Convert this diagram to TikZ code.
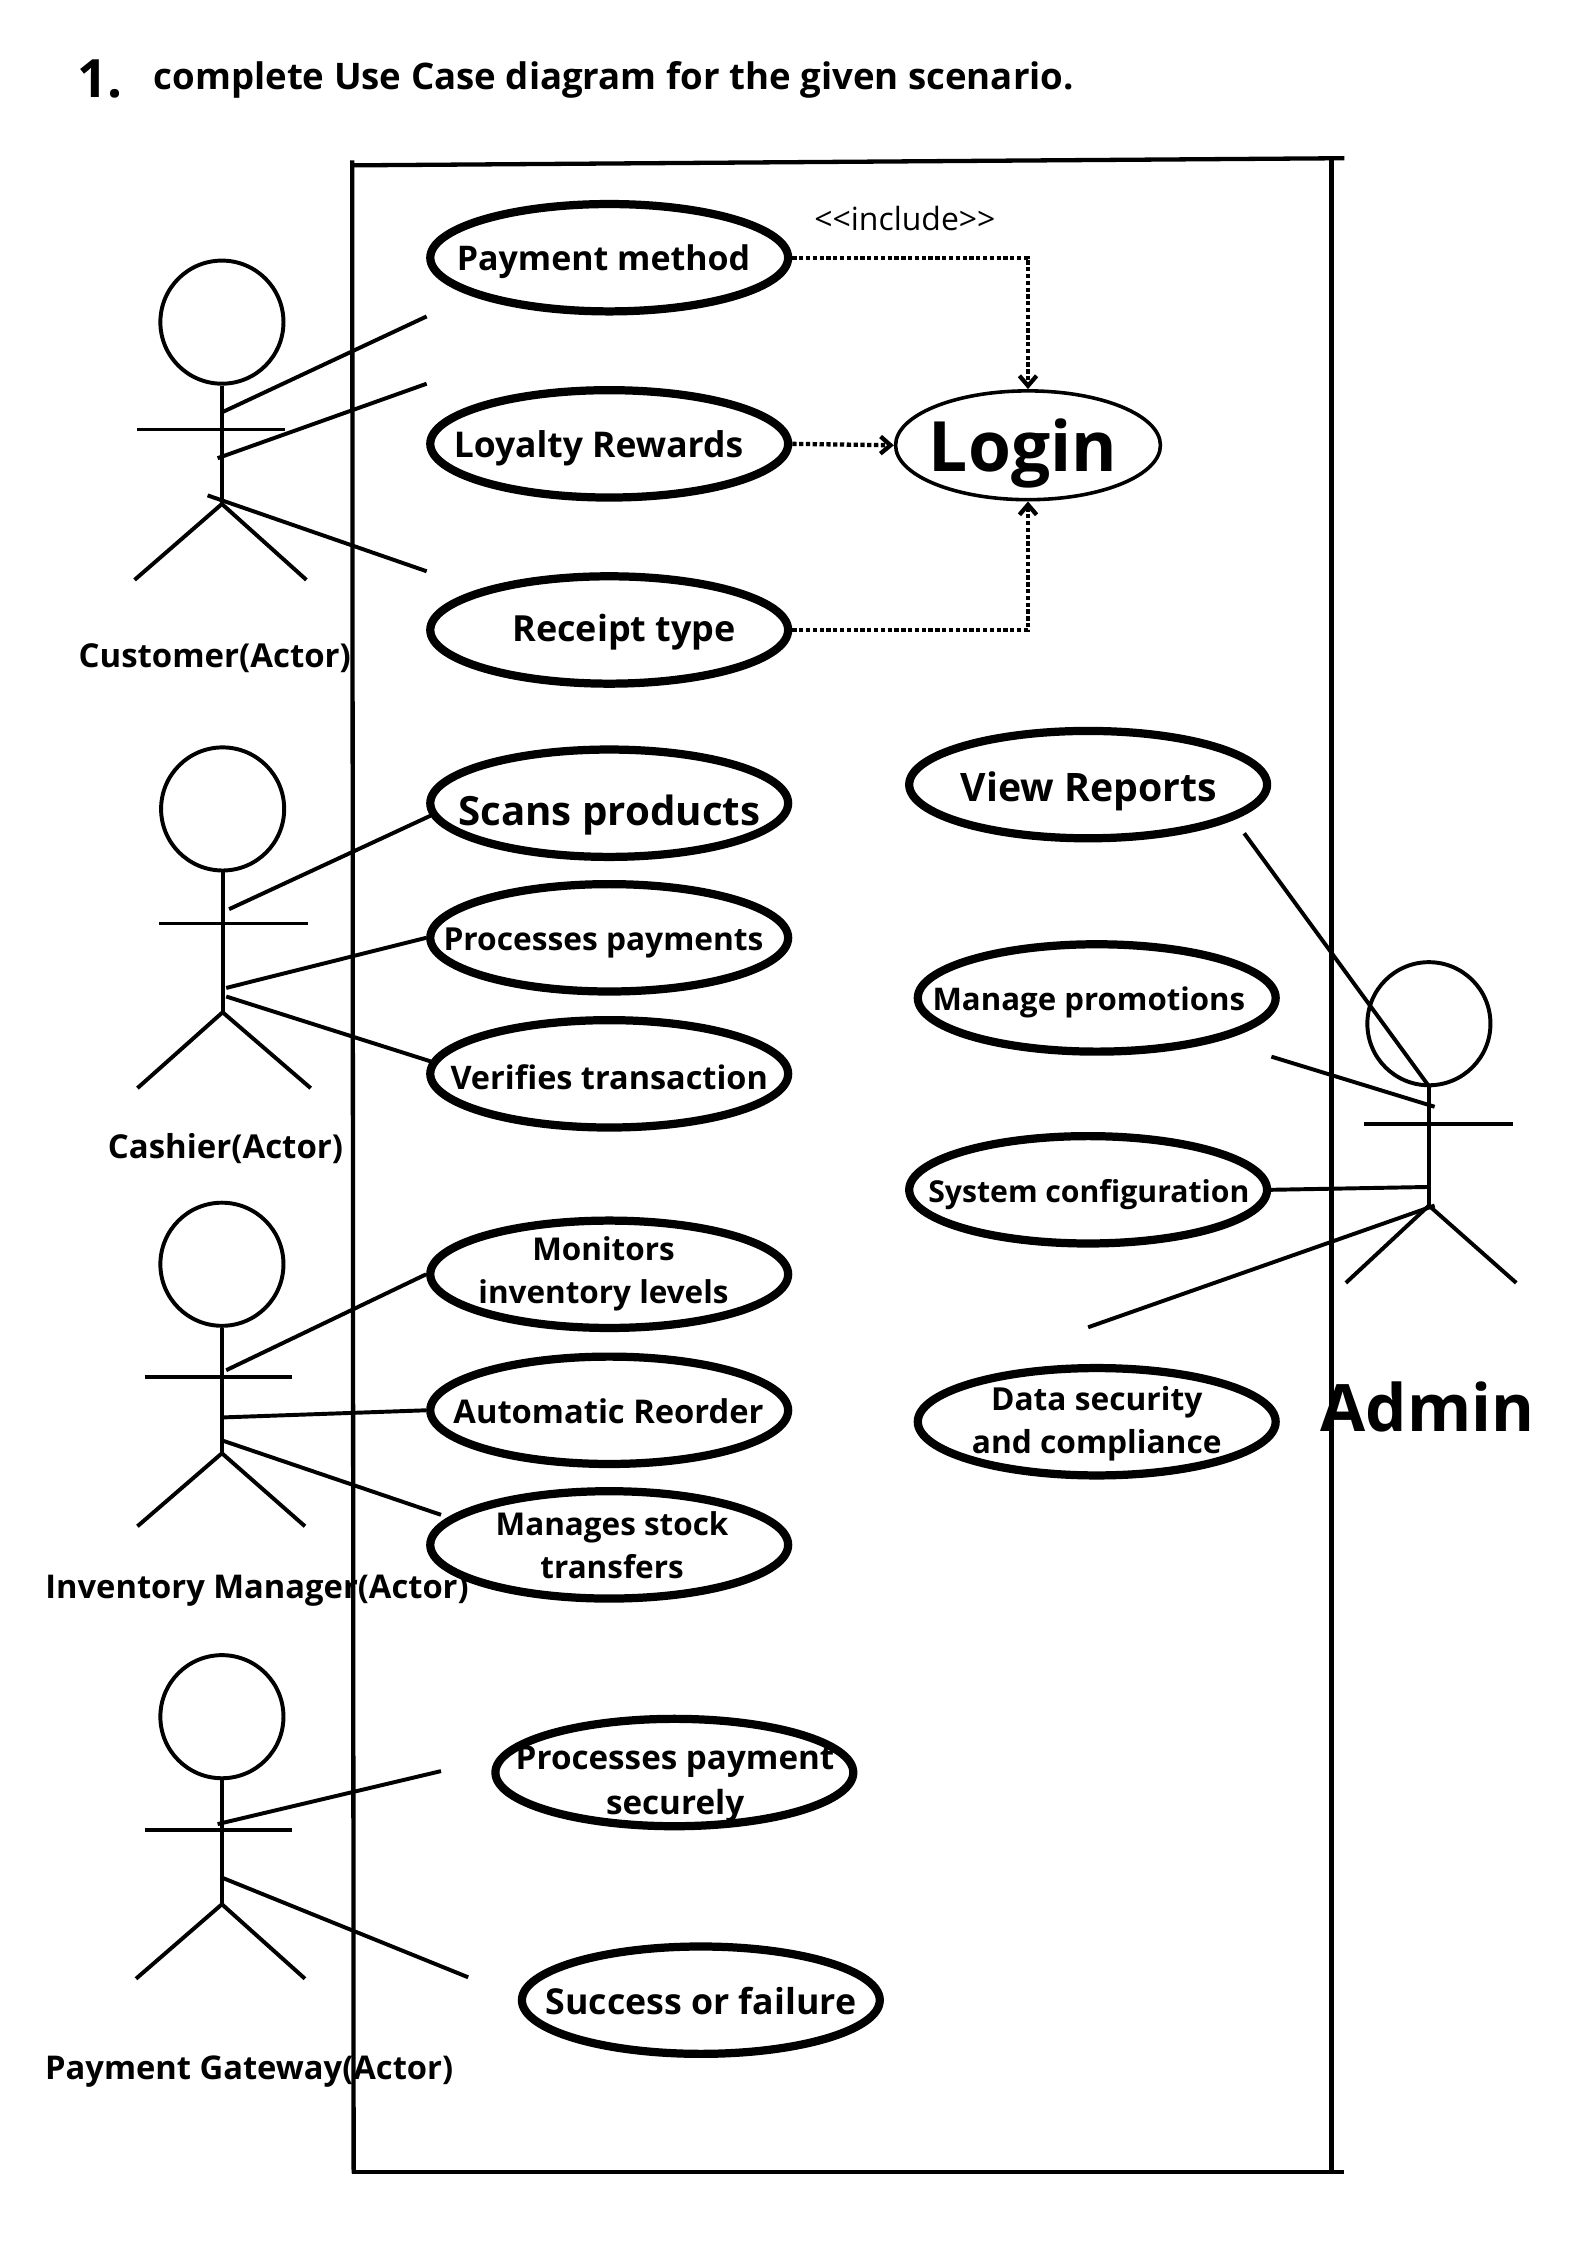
\documentclass[tikz,border=0pt]{standalone}
\usepackage{fontspec}
\setmainfont{Open Sans}
\usetikzlibrary{arrows.meta,shapes.geometric}
\tikzset{
  uc diagram/.style={x=0.02cm,y=-0.02cm,line cap=butt,line join=miter},
  uc frame/.style={draw=black,line width=0.06cm},
  uc line/.style={draw=black,line width=0.055cm},
  uc head/.style={circle,draw=black,line width=0.055cm,minimum size=1.72cm,inner sep=0pt},
  uc case/.style={ellipse,draw=black,fill=white,line width=0.115cm,minimum width=5.0cm,minimum height=1.5cm,inner sep=0pt},
  uc login/.style={ellipse,draw=black,fill=white,line width=0.05cm,minimum width=3.7cm,minimum height=1.52cm,inner sep=0pt},
  uc text/.style={align=center,inner sep=0pt},
  uc include/.style={draw=black,line width=0.06cm,densely dotted,-{Straight Barb[length=1.4mm,width=2.4mm,line cap=butt]}}
}
\begin{document}
\begin{tikzpicture}[uc diagram]
\useasboundingbox (0,0) rectangle (1108,1568);
\fill[white] (0,0) rectangle (1108,1568);
% title
\node[uc text,font={\fontsize{21}{24}\selectfont\bfseries}] (number) at (70,55) {1.};
\node[uc text,anchor=west,font={\fontsize{14.55}{17}\selectfont\bfseries}] (title) at (107,55.5) {complete Use Case diagram for the given scenario.};
% system frame
\draw[uc frame] (245,115.5) -- (939,110.5);
\draw[uc frame] (246,112) -- (247,1518);
\draw[uc frame] (930,111) -- (930,1518);
\draw[uc frame] (246,1517) -- (939,1517);
% actors
\foreach \name/\x/\y/\hip/\arm/\al/\ar/\lx/\rx/\ly in {customer/155/225/352/300/96/199/94/214/405,
  cashier/155.5/565/707/645/111/215/96/217/760,
  inventory/155/883/1015/962/101/204/96/213/1066,
  gateway/155/1199/1330/1278/101/204/95/213/1382,
  admin/998/715/842/785/953/1057/940/1059/896}{
  \node[uc head] (\name) at (\x,\y) {};
  \coordinate (\name{} hip) at (\x,\hip);
  \draw[uc line] (\name.south) -- (\name{} hip);
  \draw[uc line] (\al,\arm) -- (\ar,\arm);
  \draw[uc line] (\lx,\ly) -- (\name{} hip) -- (\rx,\ly);
}
% actor labels
\foreach \name/\x/\y/\s/\txt in {customer label/150/460/13.1/Customer(Actor),
  cashier label/157.5/802/13.1/Cashier(Actor),
  inventory label/179.5/1111/13/Inventory Manager(Actor),
  gateway label/174/1447/13/Payment Gateway(Actor),
  admin label/997/983/26/Admin}{
  \node[uc text,font={\fontsize{\s}{17}\selectfont\bfseries}] (\name) at (\x,\y) {\txt};
}
\node[uc text,font={\fontsize{12.7}{15}\selectfont}] (include label) at (632,152.5) {<{}<include>{}>};
% use cases
\foreach \name/\x/\y/\tx/\ty/\s/\txt in {payment/425.5/180/421.5/182.5/13.5/Payment method,
  loyalty/425.5/310/418/313/14.1/Loyalty Rewards,
  receipt/425.5/440/436/441.5/14.3/Receipt type,
  scans/425.5/561/425.5/569/16/Scans products,
  processes/425.5/655/421.5/658.5/12.6/Processes payments,
  verifies/425.5/750/425.5/752.5/12.9/Verifies transaction,
  monitors/425.5/890/421.5/889.5/12.5/{Monitors\\inventory levels},
  reorder/425.5/985/425/985.5/13/Automatic Reorder,
  stock/425.5/1079/427.5/1079/12.5/{Manages stock\\transfers},
  securely/471/1238/471.5/1246/13.2/{Processes payment\\[1pt]securely},
  success/489.5/1397/489.5/1397.5/14.2/Success or failure,
  reports/760/548/760.5/552.5/15.6/View Reports,
  promotions/766/697/760.5/700/12.4/Manage promotions,
  configuration/760/831/760.5/834/12/System configuration,
  security/766/993/766/994.5/12.6/{Data security\\and compliance}}{
  \node[uc case] (\name) at (\x,\y) {};
  \node[uc text,font={\fontsize{\s}{17}\selectfont\bfseries}] (\name{} text) at (\tx,\ty) {\txt};
}
\node[uc login] (login) at (718,311) {};
\node[uc text,font={\fontsize{27.6}{32}\selectfont\bfseries}] (login text) at (714.5,317) {Login};
% includes
\draw[uc include] (payment.east) -| (login.north);
\draw[uc include] (loyalty.east) -- (login.west);
\draw[uc include] (receipt.east) -| (login.south);
% free ends of the associations
\foreach \name/\x/\y in {customer a/155/288,customer b/152/320,customer c/145/346,
  customer d/298/221,customer e/298/268,customer f/298/399,
  cashier a/160/635,cashier b/158/690,cashier c/158/696,
  inventory a/158/957,inventory b/155/990,inventory c/155/1006,inventory d/308/1058,
  gateway a/152/1274,gateway b/154/1311,gateway c/308/1237,gateway d/327/1381,
  admin a/869/582,admin b/999/760,admin c/888/738,admin d/1002/773,
  admin e/999/829,admin f/760/927,admin g/1002/842}{
  \coordinate (\name) at (\x,\y);
}
% associations
\foreach \from/\to in {customer a/customer d,customer b/customer e,customer c/customer f,
  cashier a/scans.184,cashier b/processes.west,cashier c/verifies.176,
  inventory a/monitors.west,inventory b/reorder.west,inventory c/inventory d,
  gateway a/gateway c,gateway b/gateway d,
  admin a/admin b,admin c/admin d,configuration.east/admin e,admin f/admin g}{
  \draw[uc line] (\from) -- (\to);
}
\end{tikzpicture}
\end{document}
